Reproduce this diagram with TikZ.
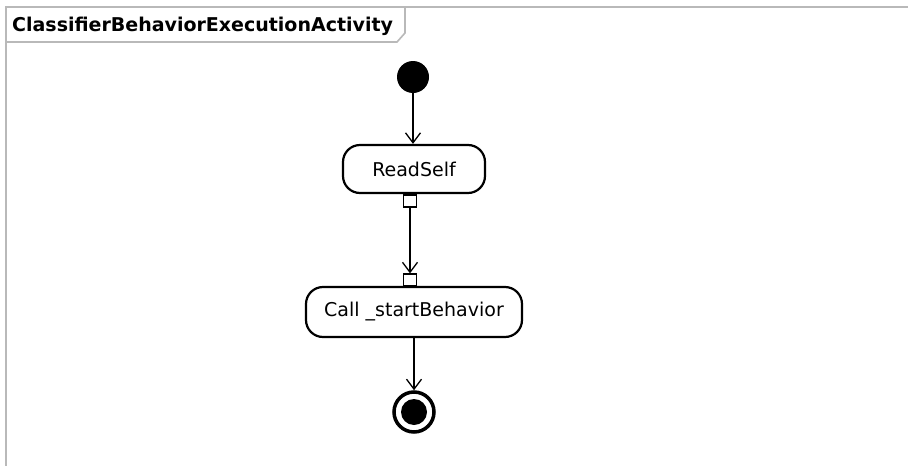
\documentclass[tikz,border=0pt]{standalone}
\usepackage{fontspec}
\setmainfont{DejaVu Sans}
\usetikzlibrary{arrows.meta}
\definecolor{framegray}{RGB}{185,185,185}
\begin{document}
\begin{tikzpicture}[x=1pt,y=-1pt,
  action/.style={draw=black,line width=2.2pt,rounded corners=17pt,fill=white,inner sep=0pt,font=\fontsize{19}{22}\selectfont},
  pinbox/.style={draw=black,line width=1.3pt,fill=white,minimum width=13pt,minimum height=12pt,inner sep=0pt},
  flow/.style={line width=1.4pt,-{Straight Barb[length=10pt,width=15pt,line width=1.3pt]}},
  framel/.style={draw=framegray,line width=1.6pt}
]
\useasboundingbox (0,0) rectangle (908,466);
\fill[white] (0,0) rectangle (908,466);
% frame
\draw[framel] (908,7) -- (6,7) -- (6,466);
\draw[framel] (405,7) -- (405,33) -- (397,42) -- (6,42);
\node[anchor=west,inner sep=0pt,font=\bfseries\fontsize{19}{22}\selectfont] (title) at (12,26) {ClassifierBehaviorExecutionActivity};
% initial
\node[circle,fill=black,minimum size=32pt,inner sep=0pt] (init) at (413,77) {};
% ReadSelf
\node[action,minimum width=142pt,minimum height=48pt] (read) at (414,169) {ReadSelf};
\node[pinbox] (pout) at (410,201) {};
% Call
\node[action,minimum width=216pt,minimum height=50pt] (call) at (414,312) {Call \_startBehavior};
\node[pinbox] (pin) at (410,280) {};
% final
\node[circle,draw=black,line width=3.5pt,fill=white,minimum size=40pt,inner sep=0pt] (final) at (414,412) {};
\node[circle,fill=black,minimum size=26pt,inner sep=0pt] (finalin) at (final.center) {};
% flows
\draw[flow] (init) -- (init|-read.north);
\draw[flow] (pout) -- (pin);
\draw[flow] (call) -- (final);
\end{tikzpicture}
\end{document}
